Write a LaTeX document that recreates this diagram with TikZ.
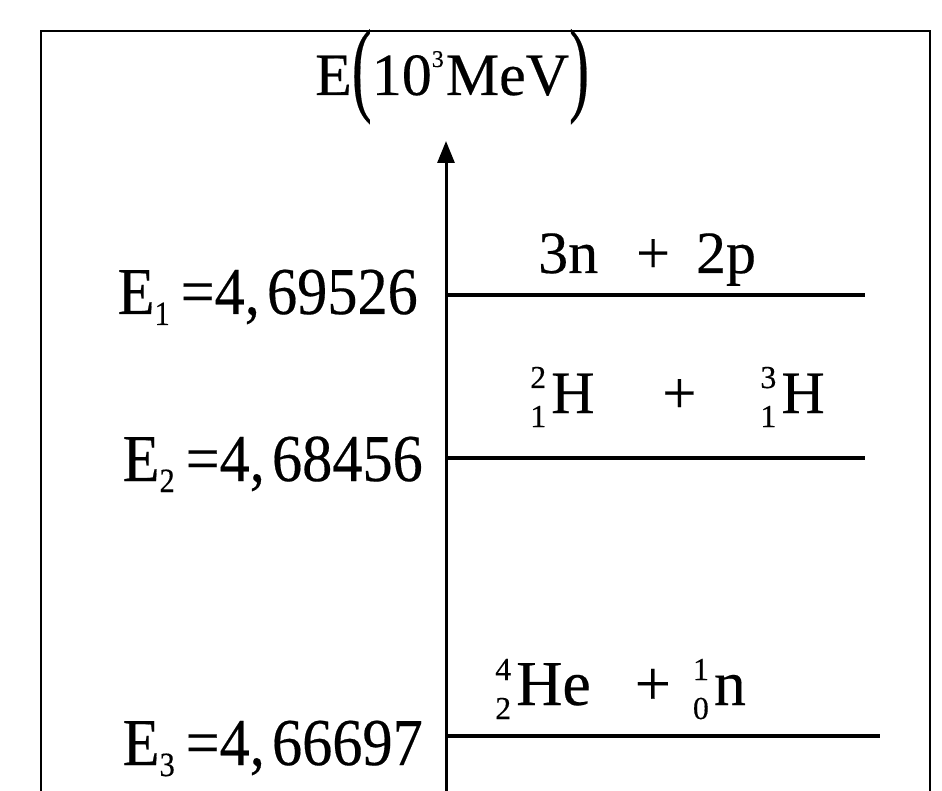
\documentclass[tikz,border=0pt]{standalone}
\usepackage{fontspec}
\setmainfont{Liberation Serif}
\newfontfamily\hv{Liberation Serif}[FakeBold=0.3]
\usetikzlibrary{arrows.meta}
\newcommand\cnd[1]{\scalebox{0.9}[1]{#1}}
\newcommand\scr[1]{{\fontsize{32}{32}\selectfont #1}}
\newcommand\nuc[3]{\makebox[0pt][l]{\raisebox{25pt}{\scr{#1}}}\raisebox{-14pt}{\scr{#2}}\hspace{5pt}#3}
\newcommand\esub[1]{\raisebox{-11pt}{\fontsize{34}{34}\selectfont #1}}
\newcommand\tallparen[1]{\raisebox{-7pt}{\scalebox{1}[1.75]{#1}}}
\begin{document}
\begin{tikzpicture}[x=1pt,y=-1pt,
  frame/.style={line width=2.5pt},
  axisline/.style={line width=3pt,-{Triangle[length=22pt,width=17pt]}},
  level/.style={line width=4pt},
  elabel/.style={inner sep=0pt,anchor=base east,font=\hv\fontsize{67}{70}\selectfont},
  plabel/.style={inner sep=0pt,anchor=base west,font=\hv\fontsize{60}{64}\selectfont},
  alabel/.style={inner sep=0pt,anchor=base west,font=\hv\fontsize{60}{64}\selectfont}]
\useasboundingbox (0,0) rectangle (942,791);
\fill[white] (0,0) rectangle (942,791);
% frame (open at the bottom)
\coordinate (fbl) at (41,791);
\coordinate (ftl) at (41,31);
\coordinate (ftr) at (930,31);
\coordinate (fbr) at (930,791);
\draw[frame] (fbl) -- (ftl) -- (ftr) -- (fbr);
% energy axis
\coordinate (axbot) at (446,791);
\coordinate (axtop) at (446,141);
\draw[axisline] (axbot) -- (axtop);
\node[alabel] (axlabel) at (315,95) {E\tallparen{(}10\raisebox{28pt}{\fontsize{24}{24}\selectfont 3}\hspace{2pt}MeV\tallparen{)}};
% levels
\coordinate (l1a) at (446,295);
\coordinate (l1b) at (865,295);
\coordinate (l2a) at (446,458);
\coordinate (l2b) at (865,458);
\coordinate (l3a) at (446,736);
\coordinate (l3b) at (880,736);
\draw[level] (l1a) -- (l1b);
\draw[level] (l2a) -- (l2b);
\draw[level] (l3a) -- (l3b);
% energy values
\node[elabel] (e1) at (418,314) {\cnd{E\esub{1}\hspace{12pt}=4,\hspace{8pt}69526}};
\node[elabel] (e2) at (423,481) {\cnd{E\esub{2}\hspace{12pt}=4,\hspace{8pt}68456}};
\node[elabel] (e3) at (423,765) {\cnd{E\esub{3}\hspace{12pt}=4,\hspace{8pt}66697}};
% configurations
\node[plabel] (c1) at (538,273) {3n\hspace{38pt}+\hspace{26pt}2p};
\node[plabel] (c2) at (530,413) {\nuc{2}{1}{H}\hspace{68pt}+\hspace{64pt}\nuc{3}{1}{H}};
\node[plabel,font=\hv\fontsize{64}{68}\selectfont] (c3) at (495,705) {\nuc{4}{2}{He}\hspace{44pt}+\hspace{22pt}\nuc{1}{0}{n}};
\end{tikzpicture}
\end{document}
